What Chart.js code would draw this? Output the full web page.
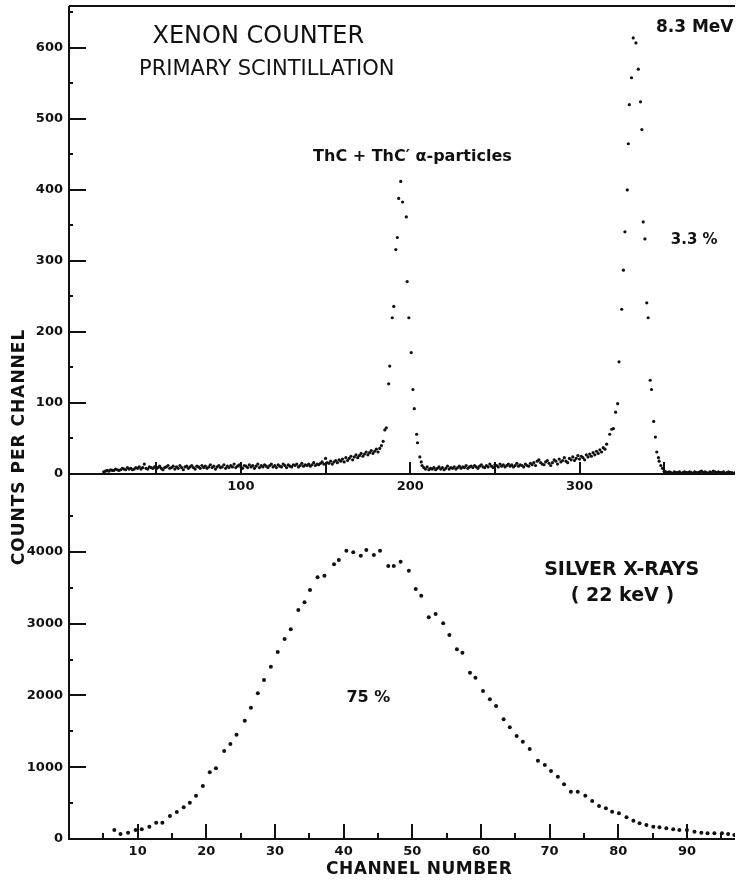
<!DOCTYPE html>
<html>
<head>
<meta charset="utf-8">
<script src="https://cdn.jsdelivr.net/npm/chart.js@4.4.1/dist/chart.umd.min.js"></script>
<style>
  html, body { margin: 0; padding: 0; background: #fff; }
  #wrap { position: relative; width: 739px; height: 881px; }
  #wrap canvas { position: absolute; left: 0; top: 0; }
</style>
</head>
<body>
<div id="wrap">
  <canvas id="alphaChart" width="739" height="881"></canvas>
  <canvas id="xrayChart" width="739" height="881"></canvas>
</div>
<script>
// ---- top panel: ThC + ThC' alpha spectrum (counts per channel) ----
// background, one value per channel, channels 19..184
const bg1Start = 19;
const bg1Counts = [
  3,4,5,4,6,5,5,7,6,5,
  6,8,7,6,9,7,8,6,7,9,
  8,10,7,9,14,8,7,10,9,8,
  10,7,9,11,8,6,9,10,12,8,
  9,11,7,10,8,12,9,6,10,11,
  8,10,12,9,7,11,10,8,12,9,
  11,8,10,13,9,11,7,10,12,9,
  10,13,8,11,9,12,10,14,9,11,
  13,10,8,12,11,9,13,10,12,8,
  11,14,9,12,10,13,11,9,12,14,
  10,12,9,13,11,10,14,12,9,13,
  11,10,13,12,14,10,12,15,11,13,
  12,14,11,13,16,12,14,13,15,17,
  14,22,16,15,18,14,17,19,16,20,
  18,21,17,23,19,22,25,20,24,27,
  23,26,29,25,28,31,27,30,33,29,
  32,35,31,36,40,46
];
// first alpha peak
const peak1Channels = [185.0,185.9,187.3,187.9,189.4,190.3,191.5,192.4,193.2,194.4,195.5,
  197.7,198.2,199.2,200.6,201.6,202.4,203.8,204.3,205.7,206.5];
const peak1Counts = [62,65,127,152,220,236,316,333,388,412,383,
  362,271,220,171,119,92,56,44,24,17];
// background channels 207..316
const bg2Start = 207;
const bg2Counts = [
  12,9,7,10,6,8,7,9,6,8,
  10,7,9,6,8,11,7,9,8,10,
  7,9,11,8,10,9,12,8,10,11,
  9,12,10,8,11,13,10,9,12,10,
  14,11,9,13,12,10,14,11,13,10,
  12,14,11,13,10,12,15,11,13,12,
  10,14,12,11,15,13,16,12,18,20,
  16,14,13,17,19,15,12,16,20,18,
  14,21,17,19,23,18,16,22,20,24,
  19,22,26,21,25,23,20,27,24,28,
  25,30,27,32,29,34,31,37,35,42
];
// 8.3 MeV peak
const peak2Channels = [317.8,319.0,320.0,321.3,322.5,323.3,324.9,325.9,326.8,328.2,328.8,329.4,
  330.7,331.7,333.3,334.7,336.0,336.8,337.6,338.6,339.7,340.5,341.7,342.5,343.8,344.8,345.6,346.6];
const peak2Counts = [56,63,64,87,99,158,232,287,341,400,465,520,
  558,614,607,570,524,485,355,331,241,220,132,119,74,52,31,23];
// background channels 347..392
const bg3Start = 347;
const bg3Counts = [
  18,12,8,4,3,2,3,2,1,3,
  2,2,3,1,2,3,2,2,3,2,
  1,3,2,2,3,4,2,3,2,1,
  3,2,4,3,2,3,2,2,3,1,
  2,3,2,2,1,2
];
const alphaXTicks = [100, 200, 300];
const alphaYTicks = [0, 100, 200, 300, 400, 500, 600];

// ---- bottom panel: silver X-rays (22 keV) ----
const xrayChannels = [6.6,7.5,8.6,9.7,10.6,11.7,12.7,13.6,14.7,15.7,16.7,17.6,18.5,19.5,20.5,21.4,
  22.6,23.5,24.4,25.6,26.5,27.5,28.4,29.4,30.4,31.4,32.3,33.4,34.3,35.1,36.2,37.2,38.6,39.3,40.4,
  41.4,42.5,43.3,44.4,45.3,46.5,47.3,48.3,49.5,50.5,51.3,52.4,53.4,54.5,55.4,56.5,57.3,58.4,59.2,
  60.3,61.3,62.2,63.3,64.2,65.2,66.1,67.1,68.3,69.3,70.2,71.2,72.1,73.1,74.1,75.2,76.2,77.2,78.2,
  79.1,80.1,81.2,82.2,83.1,84.1,85.1,86.0,87.0,88.0,88.9,90.0,91.1,92.1,93.0,94.0,95.1,96.0,96.9];
const xrayCounts = [125,70,88,125,135,171,227,227,320,376,441,506,603,738,929,985,
  1226,1323,1453,1648,1829,2029,2214,2400,2605,2786,2921,3189,3297,3468,3645,3667,3826,3886,4015,
  3993,3946,4025,3955,4015,3802,3802,3862,3737,3482,3389,3088,3134,3004,2841,2642,2595,2316,2247,
  2061,1946,1852,1667,1556,1435,1355,1253,1090,1031,947,868,762,659,659,603,529,460,428,
  380,357,302,255,219,195,171,163,149,135,125,125,102,88,79,79,79,70,56];
const xrayXTicks = [10, 20, 30, 40, 50, 60, 70, 80, 90];
const xrayYTicks = [0, 1000, 2000, 3000, 4000];

const ink = '#111';
const tickFont = { family: 'DejaVu Sans', size: 13, weight: 'bold' };

function fromStart(start, counts) {
  return counts.map((c, i) => ({ x: start + i, y: c }));
}
function pairs(xs, ys) {
  return xs.map((x, i) => ({ x: x, y: ys[i] }));
}

const alphaPoints = [].concat(
  fromStart(bg1Start, bg1Counts),
  pairs(peak1Channels, peak1Counts),
  fromStart(bg2Start, bg2Counts),
  pairs(peak2Channels, peak2Counts),
  fromStart(bg3Start, bg3Counts)
);
const xrayPoints = pairs(xrayChannels, xrayCounts);

// axis lines and the inward tick marks
const axesAndTicks = {
  id: 'axesAndTicks',
  afterDraw(chart, args, o) {
    const { ctx, chartArea: a } = chart;
    const xs = chart.scales.x, ys = chart.scales.y;
    ctx.save();
    ctx.strokeStyle = ink;
    ctx.lineWidth = 2;
    ctx.beginPath();
    ctx.moveTo(a.left, a.top);
    ctx.lineTo(a.left, a.bottom);
    ctx.lineTo(a.right, a.bottom);
    if (o.topLine) {
      ctx.moveTo(a.left, a.top);
      ctx.lineTo(a.right, a.top);
    }
    ctx.stroke();
    ctx.beginPath();
    for (let v = o.xStep; v < xs.max; v += o.xStep) {
      const px = Math.round(xs.getPixelForValue(v));
      const len = v % o.xMajor === 0 ? o.xMajorLen : o.xMinorLen;
      ctx.moveTo(px, a.bottom);
      ctx.lineTo(px, a.bottom - len);
    }
    for (let v = o.yStep; v <= o.yLast; v += o.yStep) {
      const py = Math.round(ys.getPixelForValue(v));
      const len = v % o.yMajor === 0 ? 17 : 4;
      ctx.moveTo(a.left, py);
      ctx.lineTo(a.left + len, py);
    }
    ctx.stroke();
    ctx.restore();
  }
};

// text written on the figure, placed in data units
const notes = {
  id: 'notes',
  afterDatasetsDraw(chart, args, o) {
    const { ctx, chartArea: a } = chart;
    ctx.save();
    ctx.fillStyle = ink;
    ctx.textAlign = 'center';
    ctx.textBaseline = 'middle';
    o.items.forEach(n => {
      ctx.font = n.font;
      ctx.letterSpacing = n.spacing || '0px';
      const px = chart.scales.x.getPixelForValue(n.x);
      const py = n.below != null ? a.bottom + n.below : chart.scales.y.getPixelForValue(n.y);
      ctx.fillText(n.text, px, py);
    });
    if (o.yTitle) {
      ctx.font = 'bold 17px "DejaVu Sans"';
      ctx.letterSpacing = '1px';
      ctx.translate(20, a.top - 27);
      ctx.rotate(-Math.PI / 2);
      ctx.fillText(o.yTitle, 0, 0);
    }
    ctx.restore();
  }
};

function scales(xMin, xMax, xLabels, xHeight, yMax, yLabels) {
  return {
    x: {
      type: 'linear', min: xMin, max: xMax,
      grid: { display: false, drawTicks: false }, border: { display: false },
      afterBuildTicks: s => { s.ticks = xLabels.map(v => ({ value: v })); },
      ticks: {
        autoSkip: false, maxRotation: 0, minRotation: 0,
        padding: 5, color: ink, font: tickFont,
        callback: v => String(v)
      },
      afterFit: s => { s.height = xHeight; s.paddingLeft = 0; s.paddingRight = 0; }
    },
    y: {
      type: 'linear', min: 0, max: yMax,
      grid: { display: false, drawTicks: false }, border: { display: false },
      afterBuildTicks: s => { s.ticks = yLabels.map(v => ({ value: v })); },
      ticks: {
        autoSkip: false,
        padding: 6, color: ink, font: tickFont,
        callback: v => String(v)
      },
      afterFit: s => { s.width = 69; s.paddingTop = 0; s.paddingBottom = 0; }
    }
  };
}

new Chart(document.getElementById('alphaChart'), {
  type: 'scatter',
  data: { datasets: [{ data: alphaPoints, pointRadius: 1.6, backgroundColor: ink, borderWidth: 0 }] },
  options: {
    responsive: false, animation: false, events: [],
    layout: { padding: { top: 6, right: 0, bottom: 377, left: 0 } },
    scales: scales(-1.5, 391.8, alphaXTicks, 30, 659, alphaYTicks),
    plugins: {
      legend: { display: false }, tooltip: { enabled: false },
      axesAndTicks: { topLine: true, xStep: 50, xMajor: 50, xMajorLen: 12, xMinorLen: 5,
                      yStep: 50, yMajor: 100, yLast: 650 },
      notes: { items: [
        { text: 'XENON COUNTER', x: 110.3, y: 615, font: '24px "DejaVu Sans"' },
        { text: 'PRIMARY SCINTILLATION', x: 115.3, y: 570, font: '21px "DejaVu Sans"' },
        { text: 'ThC + ThC\u2032 \u03b1-particles', x: 201.3, y: 446, font: 'bold 16px "DejaVu Sans"' },
        { text: '8.3 MeV', x: 368, y: 628, font: 'bold 17px "DejaVu Sans"' },
        { text: '3.3 %', x: 367.7, y: 330, font: 'bold 15px "DejaVu Sans"' }
      ] }
    }
  },
  plugins: [axesAndTicks, notes]
});

new Chart(document.getElementById('xrayChart'), {
  type: 'scatter',
  data: { datasets: [{ data: xrayPoints, pointRadius: 2, backgroundColor: ink, borderWidth: 0 }] },
  options: {
    responsive: false, animation: false, events: [],
    layout: { padding: { top: 474, right: 0, bottom: 0, left: 0 } },
    scales: scales(0, 97, xrayXTicks, 42, 5084, xrayYTicks),
    plugins: {
      legend: { display: false }, tooltip: { enabled: false },
      axesAndTicks: { topLine: false, xStep: 5, xMajor: 10, xMajorLen: 15, xMinorLen: 6,
                      yStep: 500, yMajor: 1000, yLast: 4500 },
      notes: { yTitle: 'COUNTS PER CHANNEL', items: [
        { text: 'SILVER X-RAYS', x: 80.5, y: 3747, font: 'bold 19px "DejaVu Sans"' },
        { text: '( 22 keV )', x: 80.6, y: 3384, font: 'bold 19px "DejaVu Sans"' },
        { text: '75 %', x: 43.6, y: 1971, font: 'bold 16px "DejaVu Sans"' },
        { text: 'CHANNEL NUMBER', x: 51, below: 31, font: 'bold 17px "DejaVu Sans"', spacing: '0.5px' }
      ] }
    }
  },
  plugins: [axesAndTicks, notes]
});
</script>
</body>
</html>
